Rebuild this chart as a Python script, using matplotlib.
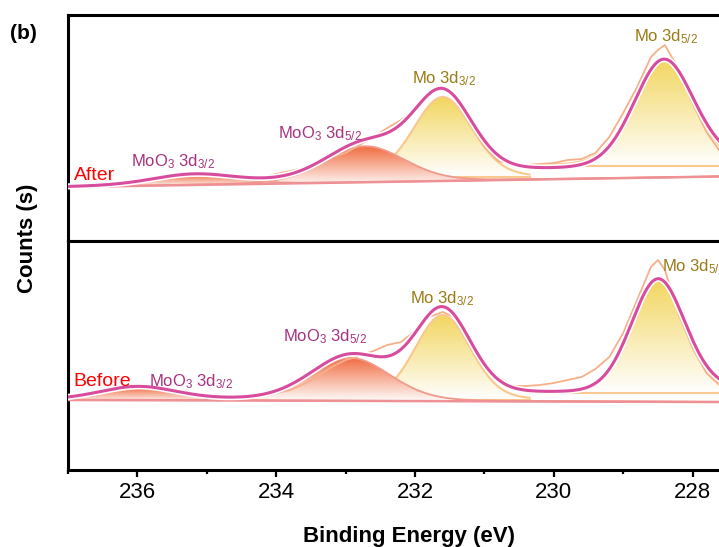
import numpy as np
import matplotlib.pyplot as plt
from matplotlib.colors import LinearSegmentedColormap
from matplotlib.ticker import MultipleLocator
from matplotlib import patheffects as pe

plt.rcParams['font.family'] = ['Liberation Sans', 'DejaVu Sans']
plt.rcParams['mathtext.fontset'] = 'custom'
plt.rcParams['mathtext.rm'] = 'Liberation Sans'
plt.rcParams['mathtext.default'] = 'rm'

# measured spectra (binding energy, eV) -> counts in arbitrary units
energy = [237.0, 236.8, 236.6, 236.4, 236.2, 236.0, 235.8, 235.6, 235.4, 235.2,
          235.0, 234.8, 234.6, 234.4, 234.2, 234.0, 233.8, 233.6, 233.4, 233.2,
          233.0, 232.8, 232.6, 232.4, 232.2, 232.0, 231.8, 231.6, 231.4, 231.2,
          231.0, 230.8, 230.6, 230.4, 230.2, 230.0, 229.8, 229.6, 229.4, 229.2,
          229.0, 228.8, 228.6, 228.5, 228.4, 228.2, 228.0, 227.8, 227.6]
after_raw = [54, 53, 54, 56, 58, 61, 63, 65, 67, 68,
             67, 66, 64, 63, 64, 67, 70, 73, 78, 84,
             88, 96, 104, 113, 121, 132, 148, 153, 143, 118,
             94, 80, 77, 76, 77, 78, 81, 82, 88, 104,
             128, 154, 184, 191, 196, 172, 138, 109, 89]
before_raw = [71, 73, 75, 78, 80, 82, 82, 81, 79, 77,
              75, 74, 74, 75, 75, 77, 80, 86, 94, 103,
              110, 114, 119, 125, 128, 139, 153, 158, 152, 132,
              107, 93, 84, 84, 85, 87, 90, 93, 101, 113,
              137, 170, 203, 210, 200, 156, 122, 97, 84]

# fitted components: MoO3 3d3/2, MoO3 3d5/2, Mo 3d3/2, Mo 3d5/2
after_center = [235.2, 232.72, 231.6, 228.42]
after_fwhm = [1.4, 1.35, 1.0, 1.02]
after_height = [10, 36, 80, 106]
after_base = [None, None, 64, 75]
after_bg = [54, 64.5]      # linear background at 237 / 227.6 eV
after_step = 15

before_center = [236.0, 232.93, 231.6, 228.5]
before_fwhm = [1.3, 1.35, 0.95, 0.92]
before_height = [13, 43, 85, 113]
before_base = [None, None, 70, 77]
before_bg = [70, 68]
before_step = 12

# where the metallic Mo components are drawn
mo_ranges = [(233.3, 230.35), (230.35, 227.0)]

RED = '#F06B40'
YEL = '#F2D660'
ENV = '#D84C9E'
RAW = '#F6B089'
BASE = '#EE9094'


def pv(x, c, w, m=0.15):
    d = (x - c) / w
    return (1 - m) * np.exp(-4 * np.log(2) * d**2) + m / (1 + 4 * d**2)


def grad_fill(ax, x, y_top, y_bot, color, z):
    poly = ax.fill_between(x, y_bot, y_top, color='none', lw=0)
    path = poly.get_paths()[0]
    cmap = LinearSegmentedColormap.from_list('g', ['#FFFFFF', color])
    grad = np.linspace(0, 1, 256).reshape(-1, 1)
    im = ax.imshow(grad, cmap=cmap, aspect='auto', origin='lower', interpolation='bilinear',
                   extent=[x.max(), x.min(), np.min(y_bot), np.max(y_top)], zorder=z)
    im.set_clip_path(path, transform=ax.transData)


def draw_panel(ax, raw, center, fwhm, height, base, bg, step):
    x = np.linspace(237.0, 227.0, 1001)
    lin = bg[0] + (bg[1] - bg[0]) * (237.0 - x) / (237.0 - 227.6)
    peaks = [h * pv(x, c, w) for c, w, h in zip(center, fwhm, height)]
    total = np.sum(peaks, axis=0)
    shirley = step * np.cumsum(total) / np.sum(total)
    envelope = lin + total + shirley

    for i in range(4):
        if base[i] is None:
            top = lin + peaks[i]
            grad_fill(ax, x, top, lin, RED, 3)
            ax.plot(x, top, color='#F19A8C', lw=1.3, zorder=3.5)
        else:
            lo, hi = mo_ranges[i - 2]
            sel = (x <= lo) & (x >= hi)
            xs = x[sel]
            top = base[i] + peaks[i][sel]
            bot = np.full_like(xs, base[i])
            grad_fill(ax, xs, top, bot, YEL, 2)
            ax.plot(xs, top, color='#F8C88E', lw=1.5, zorder=2.5)
            ax.plot(xs, bot, color='#F8C88E', lw=1.5, zorder=2.5)

    ax.plot(x, lin, color=BASE, lw=1.8, zorder=4)
    ax.plot(energy, raw, color=RAW, lw=1.3, zorder=5)
    ax.plot(x, envelope, color=ENV, lw=2.2, zorder=6,
            path_effects=[pe.Stroke(linewidth=4.5, foreground='white'), pe.Normal()])

    for s in ax.spines.values():
        s.set_linewidth(2.2)
    ax.set_yticks([])


fig = plt.figure(figsize=(7.19, 5.47), dpi=100)
ax_top = fig.add_axes([68 / 719, 306 / 547, 694 / 719, 226 / 547])
ax_bot = fig.add_axes([68 / 719, 77 / 547, 694 / 719, 229 / 547])

draw_panel(ax_top, after_raw, after_center, after_fwhm, after_height, after_base, after_bg, after_step)
draw_panel(ax_bot, before_raw, before_center, before_fwhm, before_height, before_base, before_bg, before_step)
ax_top.set_xticks([])

ax_bot.set_xticks([236, 234, 232, 230, 228])
ax_bot.xaxis.set_minor_locator(MultipleLocator(1))
ax_bot.tick_params(axis='x', which='major', direction='out', length=5, width=1.6,
                   labelsize=16, pad=3.5)
ax_bot.tick_params(axis='x', which='minor', direction='out', length=3, width=1.6)

for ax in (ax_top, ax_bot):
    ax.set_xlim(237, 227)
ax_top.set_ylim(0, 226)
ax_bot.set_ylim(0, 229)

moo3_c = '#A8327F'
mo_c = '#9A7B16'
lab = dict(fontsize=12, va='baseline', ha='left', zorder=8)
ax_top.text(236.92, 61, 'After', color='#FF0000', fontsize=14, va='baseline', zorder=8)
ax_top.text(236.09, 75, r'MoO$_3$ 3d$_{3/2}$', color=moo3_c, **lab)
ax_top.text(233.98, 102.7, r'MoO$_3$ 3d$_{5/2}$', color=moo3_c, **lab)
ax_top.text(232.04, 157.7, r'Mo 3d$_{3/2}$', color=mo_c, **lab)
ax_top.text(228.85, 199.3, r'Mo 3d$_{5/2}$', color=mo_c, **lab)

ax_bot.text(236.92, 84, 'Before', color='#FF0000', fontsize=14, va='baseline', zorder=8)
ax_bot.text(235.84, 84, r'MoO$_3$ 3d$_{3/2}$', color=moo3_c, **lab)
ax_bot.text(233.90, 128.3, r'MoO$_3$ 3d$_{5/2}$', color=moo3_c, **lab)
ax_bot.text(232.07, 166.7, r'Mo 3d$_{3/2}$', color=mo_c, **lab)
ax_bot.text(228.44, 198.3, r'Mo 3d$_{5/2}$', color=mo_c, **lab)

fig.text(409 / 719, 1 - 542 / 547, 'Binding Energy (eV)', fontsize=16, fontweight='bold',
         ha='center', va='baseline')
fig.text(28 / 719, 1 - 238 / 547, 'Counts (s)', fontsize=16, fontweight='bold',
         rotation=90, ha='center', va='center')
fig.text(10 / 719, 1 - 39 / 547, '(b)', fontsize=15, fontweight='bold', ha='left', va='baseline')

fig.savefig('out.png', dpi=100)
